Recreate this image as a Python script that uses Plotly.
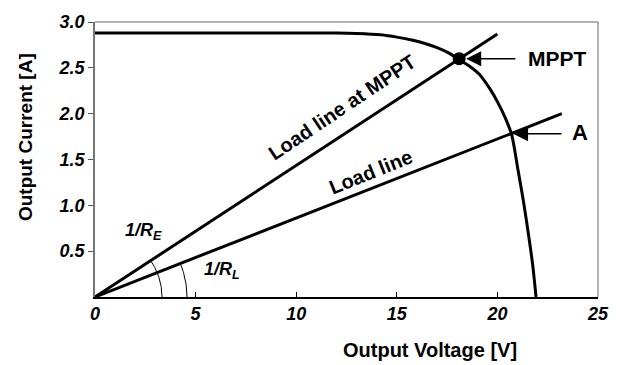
import numpy as np
import plotly.graph_objects as go

# I-V curve of the PV module
iv_voltage = [0, 6, 12, 13, 14.2, 15.0, 15.8, 16.4, 17.0, 17.6, 18.1, 18.6, 19.1, 19.63, 20.05,
              20.38, 20.71, 20.99, 21.29, 21.54, 21.76, 21.92]
iv_current = [2.88, 2.88, 2.88, 2.875, 2.86, 2.835, 2.80, 2.765, 2.72, 2.66, 2.59, 2.52, 2.43, 2.27, 2.11,
              1.96, 1.77, 1.43, 1.05, 0.69, 0.34, 0.0]

# load lines
mppt_line_v = [0, 20.0]
mppt_line_i = [0, 2.87]
load_line_v = [0, 23.2]
load_line_i = [0, 2.0]

mppt_point = (18.1, 2.6)
a_point = (20.7, 1.78)

x_ticks = [0, 5, 10, 15, 20, 25]
y_ticks = [0.5, 1.0, 1.5, 2.0, 2.5, 3.0]
y_ticktext = ["0.5", "1.0", "1.5", "2.0", "2.5", "3.0"]

FONT = "Arial, Liberation Sans, sans-serif"

# layout geometry (pixels)
W, H = 622, 365
ML, MR, MT, MB = 95, 24, 15, 68
PW, PH = W - ML - MR, H - MT - MB
XMAX, YMAX = 25.0, 3.0
px_per_v = PW / XMAX
px_per_a = PH / YMAX

fig = go.Figure()

fig.add_trace(go.Scatter(x=iv_voltage, y=iv_current, mode="lines",
                         line=dict(color="black", width=3, shape="spline", smoothing=0.8),
                         hoverinfo="skip"))
fig.add_trace(go.Scatter(x=mppt_line_v, y=mppt_line_i, mode="lines",
                         line=dict(color="black", width=3), hoverinfo="skip"))
fig.add_trace(go.Scatter(x=load_line_v, y=load_line_i, mode="lines",
                         line=dict(color="black", width=3), hoverinfo="skip"))


def arc(radius_px, slope):
    ang = np.arctan(slope * px_per_a / px_per_v)
    t = np.linspace(0, ang, 30)
    return radius_px * np.cos(t) / px_per_v, radius_px * np.sin(t) / px_per_a


ax1, ay1 = arc(67, mppt_line_i[1] / mppt_line_v[1])
ax2, ay2 = arc(92, load_line_i[1] / load_line_v[1])
for xs, ys in [(ax1, ay1), (ax2, ay2)]:
    fig.add_trace(go.Scatter(x=xs, y=ys, mode="lines",
                             line=dict(color="black", width=1), hoverinfo="skip"))

fig.add_trace(go.Scatter(x=[mppt_point[0]], y=[mppt_point[1]], mode="markers",
                         marker=dict(color="black", size=13), hoverinfo="skip"))

ang_mppt = np.degrees(np.arctan(mppt_line_i[1] / mppt_line_v[1] * px_per_a / px_per_v))
ang_load = np.degrees(np.arctan(load_line_i[1] / load_line_v[1] * px_per_a / px_per_v))

C = dict(xanchor="center", yanchor="middle")
ann = []
ann.append(dict(x=12.3, y=2.07, xref="x", yref="y", text="<b>Load line at MPPT</b>",
                textangle=-ang_mppt, showarrow=False, font=dict(family=FONT, size=20, color="black"), **C))
ann.append(dict(x=13.7, y=1.36, xref="x", yref="y", text="<b>Load line</b>",
                textangle=-ang_load, showarrow=False, font=dict(family=FONT, size=20, color="black"), **C))
ann.append(dict(x=2.39, y=0.713, xref="x", yref="y", text="<b><i>1/R<sub>E</sub></i></b>",
                showarrow=False, font=dict(family=FONT, size=18, color="black"), **C))
ann.append(dict(x=6.3, y=0.287, xref="x", yref="y", text="<b><i>1/R<sub>L</sub></i></b>",
                showarrow=False, font=dict(family=FONT, size=18, color="black"), **C))
# arrows
ann.append(dict(x=18.45, y=2.6, ax=20.97, ay=2.6, xref="x", yref="y", axref="x", ayref="y",
                text="", showarrow=True, arrowhead=2, arrowsize=2.0, arrowwidth=1.5, arrowcolor="black"))
ann.append(dict(x=20.78, y=1.78, ax=23.26, ay=1.78, xref="x", yref="y", axref="x", ayref="y",
                text="", showarrow=True, arrowhead=2, arrowsize=2.0, arrowwidth=1.5, arrowcolor="black"))
ann.append(dict(x=23.0, y=2.6, xref="x", yref="y", text="<b>MPPT</b>", showarrow=False,
                font=dict(family=FONT, size=21, color="black"), **C))
ann.append(dict(x=24.1, y=1.8, xref="x", yref="y", text="<b>A</b>", showarrow=False,
                font=dict(family=FONT, size=22, color="black"), **C))
# axis titles
ann.append(dict(x=(25 - ML) / PW, y=(H - MB - 133) / PH, xref="paper", yref="paper",
                text="<b>Output Current [A]</b>", textangle=-90, showarrow=False,
                font=dict(family=FONT, size=19, color="black"), **C))
ann.append(dict(x=(430 - ML) / PW, y=(H - MB - 351) / PH, xref="paper", yref="paper",
                text="<b>Output Voltage [V]</b>", showarrow=False,
                font=dict(family=FONT, size=20, color="black"), **C))

fig.update_layout(
    width=W, height=H,
    margin=dict(l=ML, r=MR, t=MT, b=MB, pad=0),
    paper_bgcolor="white", plot_bgcolor="white",
    showlegend=False,
    annotations=ann,
    shapes=[
        dict(type="line", xref="paper", yref="paper", x0=0, x1=1, y0=1, y1=1,
             line=dict(color="#999999", width=1.5)),
        dict(type="line", xref="paper", yref="paper", x0=1, x1=1, y0=0, y1=1,
             line=dict(color="#999999", width=1.5)),
    ],
    xaxis=dict(range=[0, XMAX], tickvals=x_ticks, ticktext=[str(v) for v in x_ticks],
               ticks="inside", ticklen=5, tickcolor="black", showline=True, linecolor="black",
               linewidth=1.5, showgrid=False, zeroline=False, fixedrange=True,
               tickfont=dict(family=FONT, size=18, color="black", weight="bold", style="italic")),
    yaxis=dict(range=[0, YMAX], tickvals=y_ticks, ticktext=y_ticktext,
               ticks="outside", ticklen=5, tickcolor="#555555", showline=True, linecolor="#777777",
               linewidth=1.5, showgrid=False, zeroline=False, fixedrange=True,
               tickfont=dict(family=FONT, size=18, color="black", weight="bold", style="italic")),
)

fig.write_html("out.html")
